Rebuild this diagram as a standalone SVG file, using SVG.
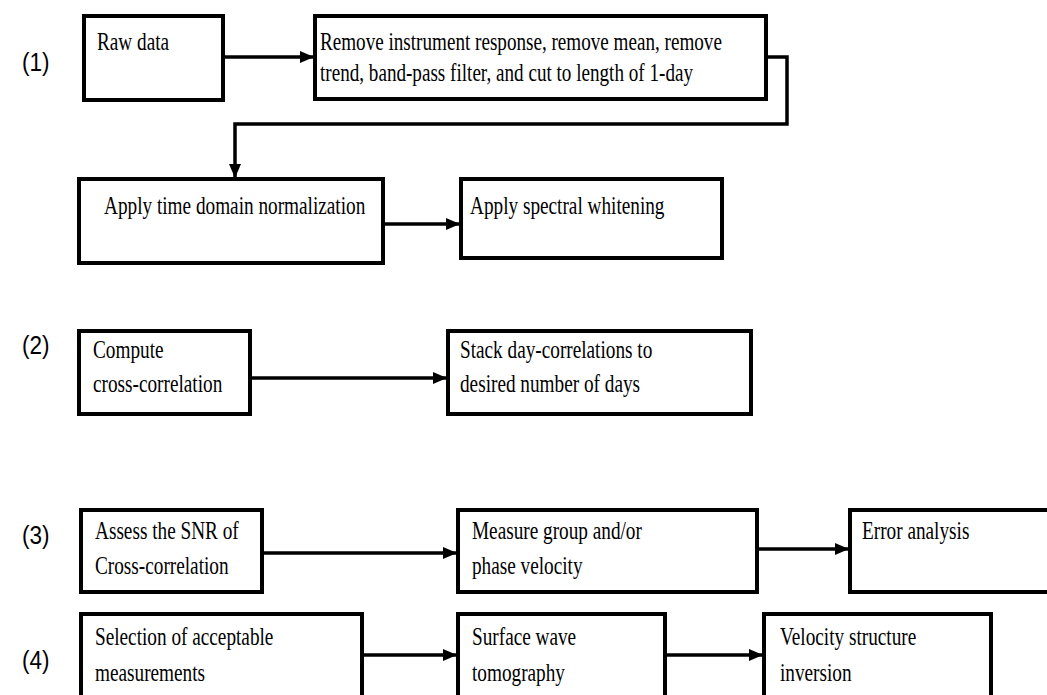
<svg xmlns="http://www.w3.org/2000/svg" width="1047" height="695" viewBox="0 0 1047 695">
<defs>
<marker id="ah" markerWidth="14" markerHeight="12" refX="13" refY="6" orient="auto" markerUnits="userSpaceOnUse">
<path d="M0,0 L14,6 L0,12 Z" fill="#000"/>
</marker>
<style>
.box{fill:#fff;stroke:#000;stroke-width:4}
.t{font-family:"Liberation Serif","Times New Roman",serif;font-size:25px;fill:#000}
.lab{font-family:"Liberation Sans",Arial,sans-serif;font-size:25px;fill:#000}
.c{fill:none;stroke:#000;stroke-width:3.5}
</style>
</defs>
<rect width="1047" height="695" fill="#fff"/>
<text class="lab" transform="translate(22,71) scale(0.9,1)">(1)</text>
<text class="lab" transform="translate(22,354) scale(0.9,1)">(2)</text>
<text class="lab" transform="translate(22,544) scale(0.9,1)">(3)</text>
<text class="lab" transform="translate(22,669) scale(0.9,1)">(4)</text>
<g id="n1"><rect class="box" x="84" y="16" width="139" height="84"/><text class="t" transform="translate(97,50) scale(0.77,1)">Raw data</text></g>
<g id="n2"><rect class="box" x="315" y="16" width="451" height="83"/><text class="t" transform="translate(320,50) scale(0.765,1)"><tspan x="0" y="0">Remove instrument response, remove mean, remove</tspan><tspan x="0" y="31">trend, band-pass filter, and cut to length of 1-day</tspan></text></g>
<g id="n3"><rect class="box" x="79" y="179" width="304" height="84"/><text class="t" transform="translate(104,214) scale(0.77,1)">Apply time domain normalization</text></g>
<g id="n4"><rect class="box" x="461" y="179" width="261" height="79"/><text class="t" transform="translate(470,214) scale(0.77,1)">Apply spectral whitening</text></g>
<g id="n5"><rect class="box" x="79" y="331" width="171" height="83"/><text class="t" transform="translate(93,358) scale(0.77,1)"><tspan x="0" y="0">Compute</tspan><tspan x="0" y="34">cross-correlation</tspan></text></g>
<g id="n6"><rect class="box" x="448" y="331" width="303" height="83"/><text class="t" transform="translate(460,358) scale(0.77,1)"><tspan x="0" y="0">Stack day-correlations to</tspan><tspan x="0" y="34">desired number of days</tspan></text></g>
<g id="n7"><rect class="box" x="81" y="510" width="181" height="82"/><text class="t" transform="translate(95,539) scale(0.77,1)"><tspan x="0" y="0">Assess the SNR of</tspan><tspan x="0" y="35">Cross-correlation</tspan></text></g>
<g id="n8"><rect class="box" x="458" y="510" width="299" height="82"/><text class="t" transform="translate(472,539) scale(0.77,1)"><tspan x="0" y="0">Measure group and/or</tspan><tspan x="0" y="35">phase velocity</tspan></text></g>
<g id="n9"><rect class="box" x="850" y="510" width="200" height="82"/><text class="t" transform="translate(862,539) scale(0.77,1)">Error analysis</text></g>
<g id="n10"><rect class="box" x="81" y="614" width="281" height="90"/><text class="t" transform="translate(95,645) scale(0.77,1)"><tspan x="0" y="0">Selection of acceptable</tspan><tspan x="0" y="36">measurements</tspan></text></g>
<g id="n11"><rect class="box" x="458" y="614" width="207" height="90"/><text class="t" transform="translate(472,645) scale(0.77,1)"><tspan x="0" y="0">Surface wave</tspan><tspan x="0" y="36">tomography</tspan></text></g>
<g id="n12"><rect class="box" x="764" y="614" width="227" height="90"/><text class="t" transform="translate(780,645) scale(0.77,1)"><tspan x="0" y="0">Velocity structure</tspan><tspan x="0" y="36">inversion</tspan></text></g>
<g id="connectors">
<path class="c" d="M223,57 H313" marker-end="url(#ah)"/>
<path class="c" d="M766,57 H787 V124 H235 V177" marker-end="url(#ah)"/>
<path class="c" d="M385,224 H459" marker-end="url(#ah)"/>
<path class="c" d="M252,378 H446" marker-end="url(#ah)"/>
<path class="c" d="M264,553 H456" marker-end="url(#ah)"/>
<path class="c" d="M759,549 H848" marker-end="url(#ah)"/>
<path class="c" d="M364,655 H456" marker-end="url(#ah)"/>
<path class="c" d="M667,655 H762" marker-end="url(#ah)"/>
</g>
</svg>
